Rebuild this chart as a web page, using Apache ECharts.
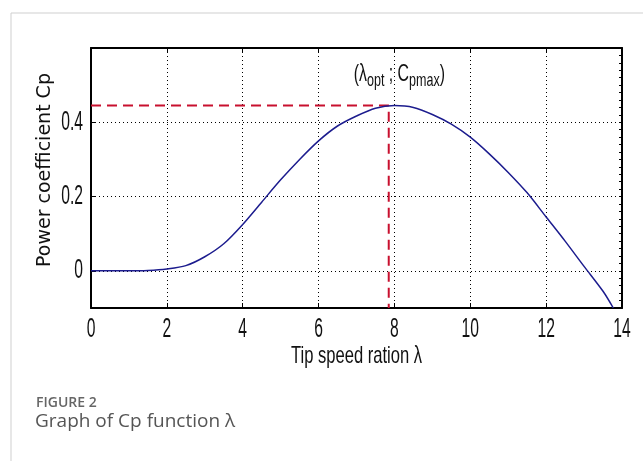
<!DOCTYPE html>
<html>
<head>
<meta charset="utf-8">
<script src="https://cdn.jsdelivr.net/npm/echarts@6/dist/echarts.min.js"></script>
<style>html,body{margin:0;padding:0;background:#fff}#c{width:643px;height:461px}</style>
</head>
<body>
<div id="c"></div>
<script>
var lambdaValues = [0, 0.5, 1, 1.5, 2, 2.5, 3, 3.5, 4, 4.5, 5, 5.5, 6, 6.5, 7, 7.5, 8, 8.5, 9, 9.5, 10, 10.5, 11, 11.5, 12, 12.5, 13, 13.5, 13.77];
var cpValues = [0, 0, 0, 0.001, 0.005, 0.014, 0.038, 0.073, 0.125, 0.185, 0.245, 0.3, 0.35, 0.39, 0.417, 0.438, 0.445, 0.44, 0.421, 0.395, 0.36, 0.315, 0.265, 0.21, 0.145, 0.08, 0.012, -0.055, -0.1];
var optPoint = [7.85, 0.445];
var xTicks = [0, 2, 4, 6, 8, 10, 12, 14];
var yTicks = [0, 0.2, 0.4];
var yTickLabels = ['0', '0.2', '0.4'];
var yRange = [-0.1, 0.6];
var annotationPos = [8.13, 0.53];
var xTitle = 'Tip speed ration λ';
var yTitle = 'Power coefficient Cp';

var tall = '"Liberation Sans", Arial, sans-serif';
var curve = lambdaValues.map(function (l, i) { return [l, cpValues[i]]; });
var guide = [[xTicks[0], optPoint[1]], [optPoint[0], optPoint[1]], [optPoint[0], yRange[0]]];

var chart = echarts.init(document.getElementById('c'));
var gridDot = { show: true, lineStyle: { color: '#000', type: [1, 3], width: 1 } };
var frameLine = { show: true, onZero: false, lineStyle: { color: '#000', width: 2 } };
var tickIn = { show: true, inside: true, length: 5, lineStyle: { color: '#000' } };
chart.setOption({
  animation: false,
  grid: { left: 91, right: 21, top: 48, bottom: 153 },
  xAxis: [{
    type: 'value', min: 0, max: 14, interval: 2,
    axisLine: frameLine, axisTick: tickIn,
    axisLabel: { show: false }, splitLine: gridDot
  }, {
    type: 'value', min: 0, max: 14, interval: 2, position: 'top',
    axisLine: frameLine, axisTick: tickIn,
    axisLabel: { show: false }, splitLine: { show: false }
  }],
  yAxis: [{
    type: 'value', min: yRange[0], max: yRange[1],
    name: yTitle, nameLocation: 'middle', nameGap: 36,
    nameTextStyle: { fontFamily: 'DejaVu Sans', fontSize: 19, color: '#111', padding: [0, 0, 0, 16] },
    axisLine: frameLine,
    axisTick: { show: true, inside: true, length: 5, customValues: yTicks, lineStyle: { color: '#000' } },
    axisLabel: { show: false, customValues: yTicks },
    splitLine: gridDot
  }, {
    type: 'value', min: yRange[0], max: yRange[1], interval: 0.02, position: 'right',
    axisLine: frameLine,
    axisTick: { show: true, inside: true, length: 3, lineStyle: { color: '#000' } },
    axisLabel: { show: false }, splitLine: { show: false }
  }],
  series: [{
    type: 'line', data: guide, symbol: 'none', silent: true,
    lineStyle: { color: '#c8102e', width: 2, type: [10, 6] }
  }, {
    type: 'line', data: curve, symbol: 'none', smooth: 0.3,
    lineStyle: { color: '#1c1c8e', width: 1.5 }
  }]
});

function px(v) { return chart.convertToPixel({ xAxisIndex: 0, yAxisIndex: 0 }, v); }
var g = [
  { type: 'polyline', shape: { points: [[11, 461], [11, 13], [643, 13]] }, style: { stroke: '#cfcfcf', lineWidth: 1, fill: null } },
  { type: 'text', x: 36, y: 396, style: { text: 'FIGURE 2', font: '600 14px "Open Sans", sans-serif', fill: '#666' } },
  { type: 'text', x: 35, y: 412, style: { text: 'Graph of Cp function λ', font: '19px "Open Sans", sans-serif', fill: '#555' } }
];
xTicks.forEach(function (v) {
  var p = px([v, yRange[0]]);
  g.push({ type: 'text', x: p[0], y: p[1] + 8, scaleX: 0.58,
    style: { text: String(v), font: '27px ' + tall, fill: '#111', align: 'center', verticalAlign: 'top' } });
});
yTicks.forEach(function (v, i) {
  var p = px([0, v]);
  g.push({ type: 'text', x: p[0] - 8, y: p[1], scaleX: 0.58,
    style: { text: yTickLabels[i], font: '27px ' + tall, fill: '#111', align: 'right', verticalAlign: 'middle' } });
});
var c0 = px([7, yRange[0]]);
g.push({ type: 'text', x: c0[0], y: c0[1] + 36, scaleX: 0.69,
  style: { text: xTitle, font: '24px ' + tall, fill: '#111', align: 'center', verticalAlign: 'top' } });
var a = px(annotationPos);
g.push({ type: 'text', x: a[0], y: a[1], scaleX: 0.66,
  style: {
    text: '{m|(λ}{s|opt}{m| ; C}{s|pmax}{m|)}', align: 'center', verticalAlign: 'middle',
    rich: {
      m: { font: '24px ' + tall, fill: '#111', lineHeight: 26 },
      s: { font: '19px ' + tall, fill: '#111', lineHeight: 26, padding: [14, 0, 0, 0] }
    }
  } });
chart.setOption({ graphic: g });
</script>
</body>
</html>
